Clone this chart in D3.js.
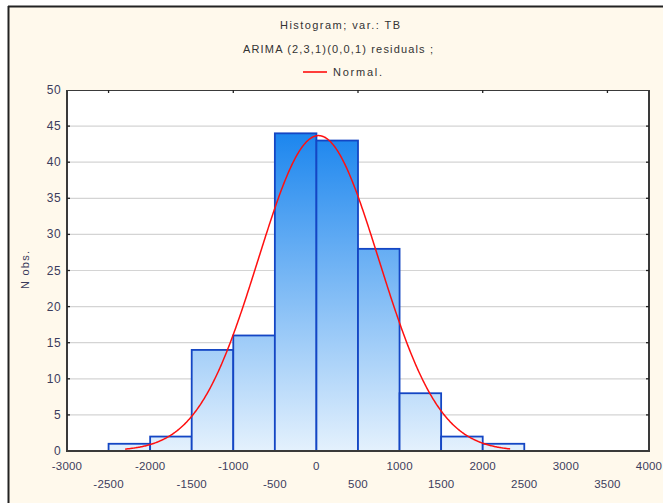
<!DOCTYPE html>
<html><head><meta charset="utf-8">
<script src="https://cdn.jsdelivr.net/npm/d3@7"></script>
<style>
html,body{margin:0;padding:0;background:#fff;}
svg{display:block;font-family:"Liberation Sans",Arial,sans-serif;}
</style></head>
<body>
<svg id="chart" width="663" height="503"></svg>
<script>
// ---- data ----
const binStarts = [-2500,-2000,-1500,-1000,-500,0,500,1000,1500,2000];
const binWidth = 500;
const counts = [1,2,14,16,44,43,28,8,2,1];
const xTicksRow1 = [-3000,-2000,-1000,0,1000,2000,3000,4000];
const xTicksRow2 = [-2500,-1500,-500,500,1500,2500,3500];
const topTicks = [-2500,-1000,500,2000,3500];
const yTicks = [0,5,10,15,20,25,30,35,40,45,50];
const normalMean = 25;
const normalSd = 726;
const normalRange = [-2300, 2330];
const titleLines = ["Histogram; var.: TB", "ARIMA (2,3,1)(0,0,1) residuals  ;"];
const legendLabel = "Normal.";

const svg = d3.select("#chart");
const W = 663, H = 503;
const L = 67, R = 649, T = 90, B = 451;

// background frame
svg.append("rect").attr("x",0).attr("y",0).attr("width",W).attr("height",H).attr("fill","#fff");
svg.append("rect").attr("x",9).attr("y",7).attr("width",W-9).attr("height",H-7).attr("fill","#FFF9EC");
svg.append("line").attr("x1",8).attr("x2",W).attr("y1",6.5).attr("y2",6.5).attr("stroke","#222").attr("stroke-width",2);
svg.append("line").attr("x1",8.5).attr("x2",8.5).attr("y1",6).attr("y2",H).attr("stroke","#222").attr("stroke-width",2);

const x = d3.scaleLinear().domain([-3000,4000]).range([L,R]);
const y = d3.scaleLinear().domain([0,50]).range([B,T]);

// plot area
svg.append("rect").attr("x",L).attr("y",T).attr("width",R-L).attr("height",B-T).attr("fill","#fff");

// grid
svg.append("g").selectAll("line").data(yTicks.filter(d=>d>0&&d<50)).join("line")
  .attr("x1",L).attr("x2",R).attr("y1",d=>y(d)).attr("y2",d=>y(d))
  .attr("stroke","#d4d4d4").attr("stroke-width",1.2);

// gradient
const defs = svg.append("defs");
const grad = defs.append("linearGradient").attr("id","barGrad")
  .attr("gradientUnits","userSpaceOnUse")
  .attr("x1",0).attr("x2",0).attr("y1",y(44)).attr("y2",y(0));
grad.append("stop").attr("offset","0%").attr("stop-color","#1c86ee");
grad.append("stop").attr("offset","100%").attr("stop-color","#e4f1fd");

// bars
svg.append("g").selectAll("rect").data(counts).join("rect")
  .attr("x",(d,i)=>x(binStarts[i]))
  .attr("y",d=>y(d))
  .attr("width",(d,i)=>x(binStarts[i]+binWidth)-x(binStarts[i]))
  .attr("height",d=>y(0)-y(d))
  .attr("fill","url(#barGrad)")
  .attr("stroke","#1446c4").attr("stroke-width",1.8);

// normal curve
const N = d3.sum(counts);
const pts = d3.range(normalRange[0], normalRange[1]+1, 10).map(v=>{
  const z=(v-normalMean)/normalSd;
  return [v, N*binWidth/(normalSd*Math.sqrt(2*Math.PI))*Math.exp(-0.5*z*z)];
});
svg.append("path").datum(pts)
  .attr("d", d3.line().x(d=>x(d[0])).y(d=>y(d[1])).curve(d3.curveLinear))
  .attr("fill","none").attr("stroke","#ff1010").attr("stroke-width",1.5);

// frame
const frame = svg.append("g").attr("stroke","#3a3a3a").attr("fill","none");
frame.append("line").attr("x1",L).attr("x2",R).attr("y1",T+0.5).attr("y2",T+0.5).attr("stroke-width",1);
frame.append("line").attr("x1",L).attr("x2",L).attr("y1",T).attr("y2",B+1).attr("stroke-width",2);
frame.append("line").attr("x1",R).attr("x2",R).attr("y1",T).attr("y2",B+1).attr("stroke-width",2);
frame.append("line").attr("x1",L-1).attr("x2",R+1).attr("y1",B).attr("y2",B).attr("stroke-width",2);

// ticks (inward)
const tk = svg.append("g").attr("stroke","#222").attr("stroke-width",1.3);
tk.selectAll(".yl").data(yTicks.filter(d=>d>0&&d<50)).join("line")
  .attr("x1",L).attr("x2",L+3).attr("y1",d=>y(d)).attr("y2",d=>y(d));
tk.selectAll(".yr").data(yTicks.filter(d=>d>0&&d<50)).join("line")
  .attr("x1",R-3).attr("x2",R).attr("y1",d=>y(d)).attr("y2",d=>y(d));
tk.selectAll(".xt").data(topTicks).join("line")
  .attr("x1",d=>x(d)).attr("x2",d=>x(d)).attr("y1",T).attr("y2",T+3);

// y labels
const lblColor = "#3c3c5c";
svg.append("g").selectAll("text").data(yTicks).join("text")
  .attr("x",L-6).attr("y",d=>y(d)+4)
  .attr("text-anchor","end").attr("font-size",12).attr("fill",lblColor)
  .attr("letter-spacing",0.4).text(d=>d);

// x labels
svg.append("g").selectAll("text").data(xTicksRow1).join("text")
  .attr("x",d=>x(d)).attr("y",470)
  .attr("text-anchor","middle").attr("font-size",11.5).attr("fill",lblColor)
  .attr("letter-spacing",0.2).text(d=>d);
svg.append("g").selectAll("text").data(xTicksRow2).join("text")
  .attr("x",d=>x(d)).attr("y",488)
  .attr("text-anchor","middle").attr("font-size",11.5).attr("fill",lblColor)
  .attr("letter-spacing",0.2).text(d=>d);

// y axis title
svg.append("text").attr("transform","translate(29,270) rotate(-90)")
  .attr("text-anchor","middle").attr("font-size",11).attr("fill",lblColor)
  .attr("textLength",38).attr("lengthAdjust","spacing").text("N obs.");

// titles
svg.append("text").attr("x",280).attr("y",29)
  .attr("font-size",11).attr("fill","#333")
  .attr("textLength",120).attr("lengthAdjust","spacing").text(titleLines[0]);
svg.append("text").attr("x",243).attr("y",53)
  .attr("font-size",11).attr("fill","#333")
  .attr("textLength",190).attr("lengthAdjust","spacing").text(titleLines[1]);
svg.append("line").attr("x1",303).attr("x2",327).attr("y1",72).attr("y2",72)
  .attr("stroke","#ff1010").attr("stroke-width",1.6);
svg.append("text").attr("x",333).attr("y",75.5).attr("font-size",11)
  .attr("fill","#333").attr("textLength",49).attr("lengthAdjust","spacing").text(legendLabel);
</script>
</body></html>
